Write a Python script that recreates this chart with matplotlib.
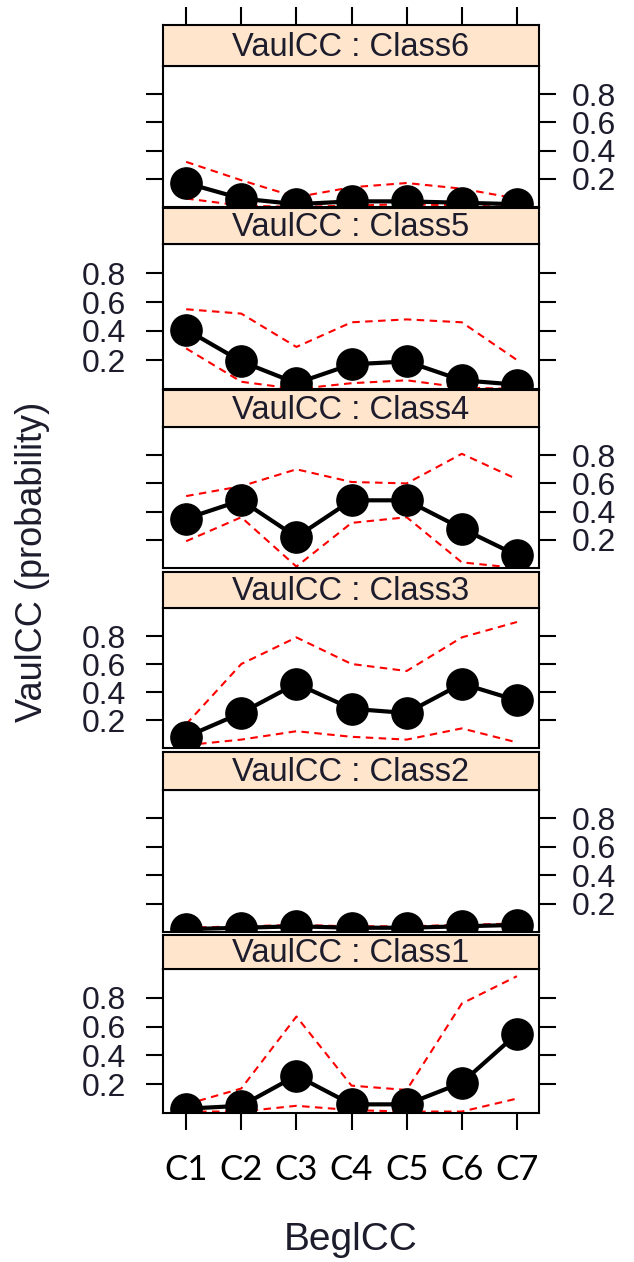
import numpy as np
import matplotlib.pyplot as plt

plt.rcParams['font.family'] = ['Liberation Sans', 'DejaVu Sans']

levels = ['C1', 'C2', 'C3', 'C4', 'C5', 'C6', 'C7']
yticks = [0.2, 0.4, 0.6, 0.8]

# fitted probabilities with lower / upper bands, one set per VaulCC class
class6_fit = [0.17, 0.06, 0.02, 0.04, 0.04, 0.03, 0.02]
class6_lo = [0.06, 0.01, 0.00, 0.01, 0.02, 0.01, 0.00]
class6_hi = [0.32, 0.19, 0.07, 0.14, 0.17, 0.13, 0.06]

class5_fit = [0.41, 0.19, 0.04, 0.17, 0.19, 0.06, 0.03]
class5_lo = [0.28, 0.05, 0.00, 0.04, 0.06, 0.01, 0.00]
class5_hi = [0.55, 0.52, 0.29, 0.46, 0.48, 0.46, 0.20]

class4_fit = [0.35, 0.48, 0.22, 0.48, 0.48, 0.28, 0.09]
class4_lo = [0.19, 0.36, 0.01, 0.32, 0.36, 0.04, 0.00]
class4_hi = [0.51, 0.58, 0.70, 0.61, 0.60, 0.81, 0.63]

class3_fit = [0.08, 0.25, 0.46, 0.28, 0.25, 0.46, 0.34]
class3_lo = [0.02, 0.06, 0.12, 0.08, 0.06, 0.14, 0.04]
class3_hi = [0.17, 0.60, 0.79, 0.60, 0.55, 0.79, 0.90]

class2_fit = [0.02, 0.03, 0.04, 0.03, 0.03, 0.04, 0.05]
class2_lo = [0.00, 0.00, 0.00, 0.00, 0.00, 0.00, 0.00]
class2_hi = [0.03, 0.04, 0.05, 0.04, 0.04, 0.05, 0.06]

class1_fit = [0.03, 0.05, 0.26, 0.06, 0.06, 0.21, 0.55]
class1_lo = [0.01, 0.01, 0.05, 0.02, 0.01, 0.01, 0.10]
class1_hi = [0.06, 0.17, 0.67, 0.19, 0.16, 0.76, 0.95]

panels = [
    ('Class6', class6_fit, class6_lo, class6_hi, 'right'),
    ('Class5', class5_fit, class5_lo, class5_hi, 'left'),
    ('Class4', class4_fit, class4_lo, class4_hi, 'right'),
    ('Class3', class3_fit, class3_lo, class3_hi, 'left'),
    ('Class2', class2_fit, class2_lo, class2_hi, 'right'),
    ('Class1', class1_fit, class1_lo, class1_hi, 'left'),
]

# strip top, panel top, panel bottom (pixels from the top of the figure)
rows = [(25, 66, 207), (208, 244, 389), (390, 427, 568),
        (572, 608, 748), (752, 790, 932), (935, 969, 1113)]

W, H = 634, 1262
left, right = 163, 539
txt = '#1c1c2c'
strip_bg = '#ffe5cc'

fig = plt.figure(figsize=(W / 100, H / 100), dpi=100)
x = np.arange(1, len(levels) + 1)


def fy(px):
    return 1 - px / H


for i, ((name, fit, lo, hi, side), (st, pt, pb)) in enumerate(zip(panels, rows)):
    ax = fig.add_axes([left / W, fy(pb), (right - left) / W, (pb - pt) / H])
    sax = fig.add_axes([left / W, fy(pt), (right - left) / W, (pt - st) / H])

    ax.plot(x, hi, color='red', lw=1.5, ls=(0, (3.6, 2.6)))
    ax.plot(x, lo, color='red', lw=1.5, ls=(0, (3.6, 2.6)))
    ax.plot(x, fit, color='black', lw=3, marker='o', ms=22.5)
    ax.set_xlim(0.58, 7.4)
    ax.set_ylim(0, 1.0)
    ax.set_yticks(yticks)
    ax.set_yticklabels([f'{v:.1f}' for v in yticks])
    ax.tick_params(axis='y', direction='out', length=12.5, width=1.5,
                   left=True, right=True,
                   labelleft=(side == 'left'), labelright=(side == 'right'),
                   labelsize=23, labelcolor=txt,
                   pad=14 if side == 'left' else 11)
    ax.set_xticks(x)
    if i == len(panels) - 1:
        ax.set_xticklabels(levels, family=['Lato', 'DejaVu Sans'], fontsize=25)
        ax.tick_params(axis='x', direction='out', length=12.5, width=1.5,
                       pad=17, labelcolor='black')
    else:
        ax.tick_params(axis='x', bottom=False, labelbottom=False)
    for sp in ax.spines.values():
        sp.set_linewidth(1.5)

    sax.set_facecolor(strip_bg)
    sax.set_xlim(0.58, 7.4)
    sax.set_ylim(0, 1)
    sax.set_yticks([])
    sax.text(0.5, 0.45, f'VaulCC : {name}', transform=sax.transAxes,
             ha='center', va='center', fontsize=23.5, color=txt)
    if i == 0:
        sax.set_xticks(x)
        sax.tick_params(axis='x', direction='out', length=13, width=1.5,
                        top=True, bottom=False, labeltop=False, labelbottom=False)
    else:
        sax.set_xticks([])
    for sp in sax.spines.values():
        sp.set_linewidth(1.5)

fig.text(33 / W, fy(562), 'VaulCC (probability)', rotation=90,
         ha='center', va='center', fontsize=26, color=txt)
fig.text((left + right) / 2 / W, fy(1250), 'BeglCC',
         ha='center', va='baseline', fontsize=28, color=txt)

fig.savefig('out.png', dpi=100)
